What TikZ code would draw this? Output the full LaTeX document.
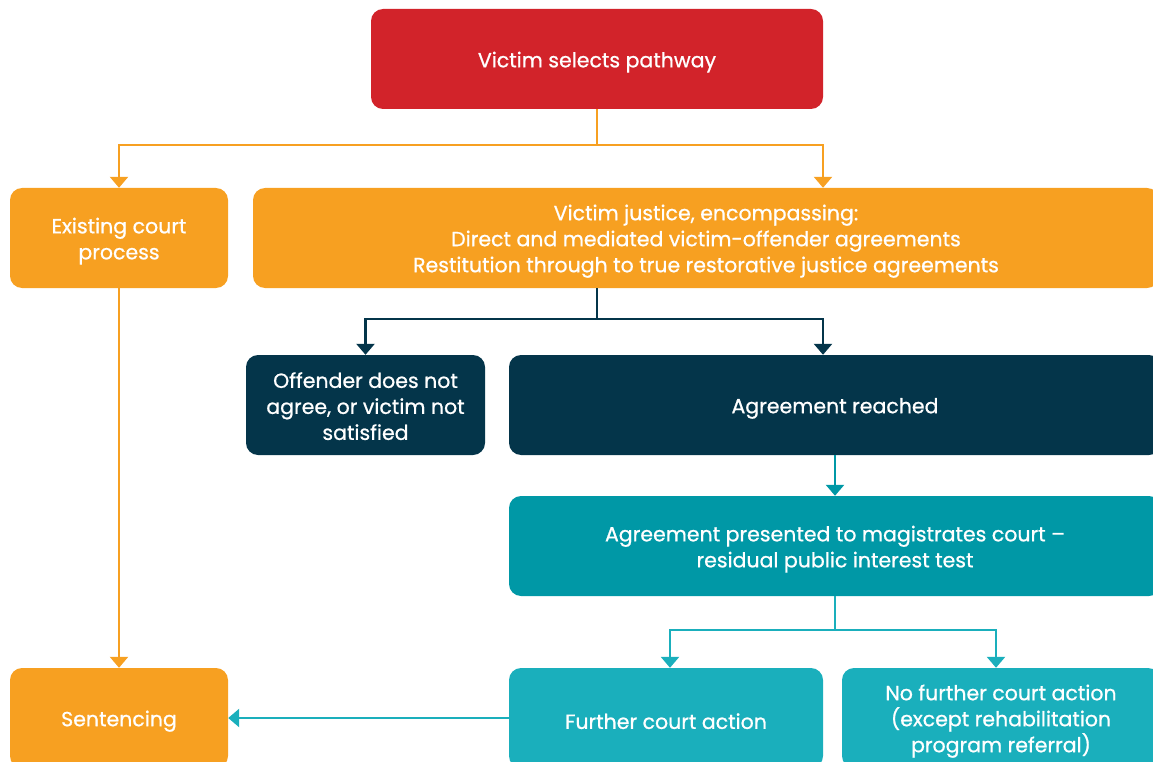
\documentclass[tikz,border=0pt]{standalone}
\usepackage{fontspec}
\setmainfont{Poppins}
\newfontfamily\boxfont{Poppins}[FakeBold=0.8]
\usetikzlibrary{arrows.meta,calc}
\definecolor{cred}{HTML}{D2232A}
\definecolor{corange}{HTML}{F7A021}
\definecolor{cnavy}{HTML}{04354A}
\definecolor{cteal}{HTML}{0098A6}
\definecolor{clteal}{HTML}{1AAFBC}
\newcommand\tstrut{\rule{0pt}{22pt}}
\tikzset{
  box/.style={rounded corners=12pt, text=white, align=center, inner sep=0pt,
    font=\boxfont\fontsize{20.5}{26}\selectfont},
  conn/.style={line width=2.5pt, -{Triangle[width=18pt,length=11pt]}},
}
\begin{document}
\begin{tikzpicture}[x=1pt,y=-1pt]
\useasboundingbox (0,0) rectangle (1153,762);
\clip (0,0) rectangle (1153,762);
\node[box,fill=cred,minimum width=452pt,minimum height=100pt] (red) at (597,59) {\tstrut Victim selects pathway};
\node[box,fill=corange,minimum width=218pt,minimum height=100pt] (exist) at (119,238) {\tstrut Existing court\\process};
\node[box,fill=corange,minimum width=906pt,minimum height=100pt] (vj) at (706,238) {\tstrut Victim justice, encompassing:\\Direct and mediated victim-offender agreements\\Restitution through to true restorative justice agreements};
\node[box,fill=cnavy,minimum width=239pt,minimum height=100pt] (off) at (365.5,405) {\rule{0pt}{18pt}Offender does not\\agree, or victim not\\satisfied};
\node[box,fill=cnavy,minimum width=652pt,minimum height=100pt] (agr) at (835,405) {\tstrut Agreement reached};
\node[box,fill=cteal,minimum width=652pt,minimum height=100pt] (pres) at (835,546) {\tstrut Agreement presented to magistrates court –\\residual public interest test};
\node[box,fill=clteal,minimum width=314pt,minimum height=100pt] (fca) at (666,718) {\tstrut Further court action};
\node[box,fill=clteal,minimum width=318pt,minimum height=100pt] (nfca) at (1001,718) {\tstrut No further court action\\(except rehabilitation\\program referral)};
\node[box,fill=corange,minimum width=218pt,minimum height=100pt] (sent) at (119,718) {\tstrut Sentencing};
\draw[conn,corange] (red.south) -- ++(0,36) -| (exist.north);
\draw[conn,corange] (red.south) -- ++(0,36) -| ([xshift=117pt]vj.north);
\draw[conn,cnavy] ([xshift=-109pt]vj.south) -- ++(0,31) -| (off.north);
\draw[conn,cnavy] ([xshift=-109pt]vj.south) -- ++(0,31) -| ([xshift=-12pt]agr.north);
\draw[conn,cteal] (agr.south) -- (pres.north);
\draw[conn,clteal] (pres.south) -- ++(0,34) -| ([xshift=4pt]fca.north);
\draw[conn,clteal] (pres.south) -- ++(0,34) -| ([xshift=-5pt]nfca.north);
\draw[conn,clteal] (fca.west) -- (sent.east);
\draw[conn,corange] (exist.south) -- (sent.north);
\end{tikzpicture}
\end{document}
